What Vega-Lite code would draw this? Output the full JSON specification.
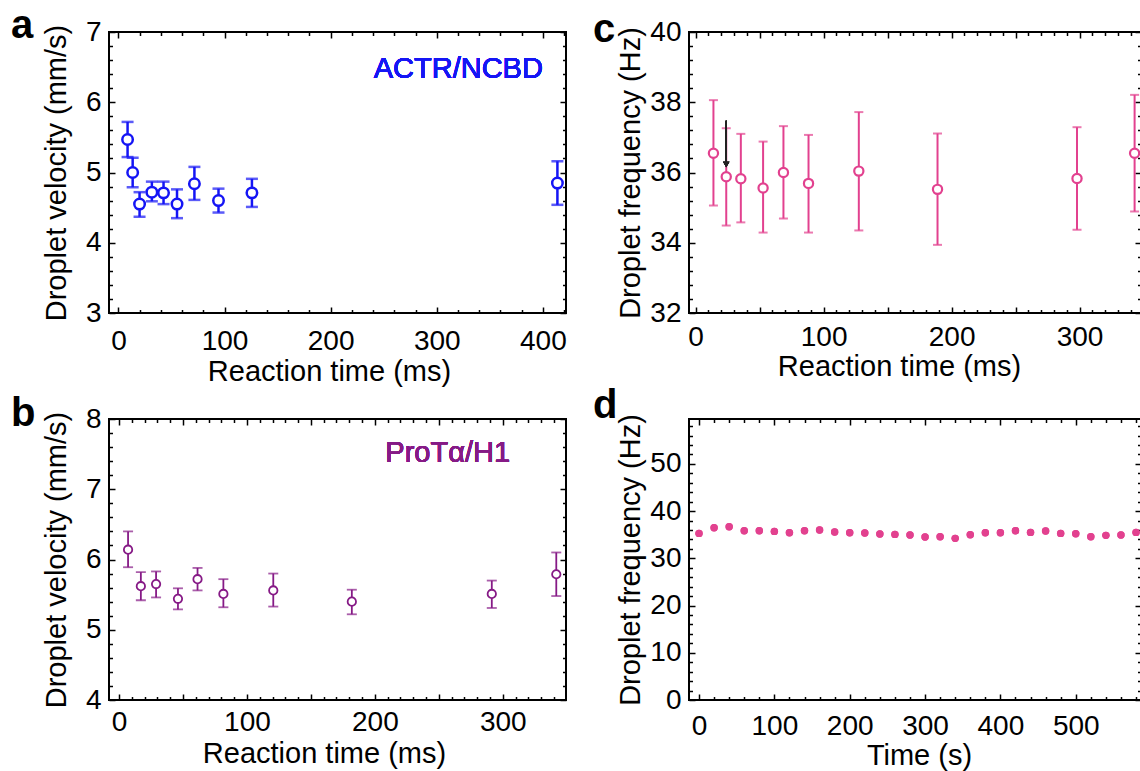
{
  "$schema": "https://vega.github.io/schema/vega-lite/v6.json",
  "background": "white",
  "padding": {"left": 10, "top": 5, "right": 0, "bottom": 0},
  "columns": 2,
  "spacing": {"row": 106, "column": 123},
  "bounds": "flush",
  "datasets": {
    "actr": [
      {"t": 8.6, "v": 5.47, "lo": 5.22, "hi": 5.72},
      {"t": 13.4, "v": 5.0, "lo": 4.79, "hi": 5.21},
      {"t": 19.9, "v": 4.55, "lo": 4.37, "hi": 4.72},
      {"t": 31.5, "v": 4.72, "lo": 4.59, "hi": 4.87},
      {"t": 42.5, "v": 4.71, "lo": 4.55, "hi": 4.87},
      {"t": 55.2, "v": 4.55, "lo": 4.35, "hi": 4.76},
      {"t": 71.6, "v": 4.84, "lo": 4.61, "hi": 5.08},
      {"t": 94.3, "v": 4.6, "lo": 4.43, "hi": 4.77},
      {"t": 125.8, "v": 4.71, "lo": 4.51, "hi": 4.91},
      {"t": 413.7, "v": 4.85, "lo": 4.54, "hi": 5.16}
    ],
    "prot": [
      {"t": 7.1, "v": 6.14, "lo": 5.89, "hi": 6.4},
      {"t": 17.1, "v": 5.62, "lo": 5.42, "hi": 5.82},
      {"t": 29.0, "v": 5.65, "lo": 5.46, "hi": 5.83},
      {"t": 46.1, "v": 5.44, "lo": 5.29, "hi": 5.59},
      {"t": 61.4, "v": 5.72, "lo": 5.56, "hi": 5.88},
      {"t": 81.6, "v": 5.51, "lo": 5.32, "hi": 5.72},
      {"t": 120.6, "v": 5.56, "lo": 5.33, "hi": 5.8},
      {"t": 182.0, "v": 5.4, "lo": 5.22, "hi": 5.57},
      {"t": 291.4, "v": 5.51, "lo": 5.31, "hi": 5.7},
      {"t": 341.8, "v": 5.79, "lo": 5.48, "hi": 6.1}
    ],
    "freq": [
      {"t": 13.9, "v": 36.55, "lo": 35.06, "hi": 38.06},
      {"t": 23.9, "v": 35.88, "lo": 34.49, "hi": 37.26},
      {"t": 35.3, "v": 35.82, "lo": 34.58, "hi": 37.1},
      {"t": 52.7, "v": 35.56, "lo": 34.29, "hi": 36.88},
      {"t": 68.6, "v": 36.0, "lo": 34.69, "hi": 37.32},
      {"t": 88.2, "v": 35.69, "lo": 34.29, "hi": 37.07},
      {"t": 127.5, "v": 36.04, "lo": 34.35, "hi": 37.72},
      {"t": 189.0, "v": 35.52, "lo": 33.94, "hi": 37.11},
      {"t": 298.0, "v": 35.83, "lo": 34.37, "hi": 37.29},
      {"t": 343.0, "v": 36.55, "lo": 34.89, "hi": 38.21}
    ],
    "series": [
      {"t": 0, "f": 35.28}, {"t": 20, "f": 36.48}, {"t": 40, "f": 36.69}, {"t": 60, "f": 35.85},
      {"t": 80, "f": 35.85}, {"t": 100, "f": 35.7}, {"t": 120, "f": 35.42}, {"t": 140, "f": 35.85},
      {"t": 160, "f": 35.99}, {"t": 180, "f": 35.56}, {"t": 200, "f": 35.42}, {"t": 220, "f": 35.35},
      {"t": 240, "f": 35.14}, {"t": 260, "f": 35.07}, {"t": 280, "f": 34.93}, {"t": 300, "f": 34.51},
      {"t": 320, "f": 34.58}, {"t": 340, "f": 34.23}, {"t": 360, "f": 35.0}, {"t": 380, "f": 35.42},
      {"t": 400, "f": 35.42}, {"t": 420, "f": 35.85}, {"t": 440, "f": 35.49}, {"t": 460, "f": 35.77},
      {"t": 480, "f": 35.28}, {"t": 500, "f": 35.21}, {"t": 520, "f": 34.58}, {"t": 540, "f": 34.86},
      {"t": 560, "f": 34.93}, {"t": 580, "f": 35.49}
    ]
  },
  "concat": [
    {
      "width": 457, "height": 281,
      "title": {"text": "a", "anchor": "start", "frame": "group", "fontSize": 40, "fontWeight": "bold", "font": "Liberation Sans", "color": "black", "offset": 0, "baseline": "alphabetic", "dx": -98, "dy": 60},
      "data": {"name": "actr"},
      "layer": [
        {
          "mark": {"type": "rule", "color": "#1515f5", "strokeWidth": 2.5},
          "encoding": {
            "x": {"field": "t", "type": "quantitative", "scale": {"domain": [-8.9, 421.8], "nice": false, "zero": false},
              "axis": {"orient": "bottom", "values": [0,20,40,60,80,100,120,140,160,180,200,220,240,260,280,300,320,340,360,380,400,420],
                "tickSize": {"condition": {"test": "datum.value % 100 === 0", "value": -6}, "value": -3.5}, "labelPadding": 20,
                "labelExpr": "datum.value % 100 === 0 ? toString(datum.value) : ''",
                "title": "Reaction time (ms)", "titleX": 220, "titleY": 67, "titleBaseline": "alphabetic"}},
            "y": {"field": "lo", "type": "quantitative", "scale": {"domain": [3, 7], "nice": false, "zero": false},
              "axis": {"orient": "left", "values": [3,3.2,3.4,3.6,3.8,4,4.2,4.4,4.6,4.8,5,5.2,5.4,5.6,5.8,6,6.2,6.4,6.6,6.8,7],
                "tickSize": {"condition": {"test": "abs(datum.value - round(datum.value)) < 0.001", "value": -6}, "value": -3.5}, "labelPadding": 14,
                "labelExpr": "abs(datum.value - round(datum.value)) < 0.001 ? toString(round(datum.value)) : ''",
                "title": "Droplet velocity (mm/s)", "titlePadding": 14}},
            "y2": {"field": "hi"}
          }
        },
        {
          "mark": {"type": "tick", "orient": "horizontal", "color": "#1515f5", "size": 12, "thickness": 2.5},
          "encoding": {
            "x": {"field": "t", "type": "quantitative",
              "axis": {"orient": "top", "values": [0,20,40,60,80,100,120,140,160,180,200,220,240,260,280,300,320,340,360,380,400,420],
                "tickSize": {"condition": {"test": "datum.value % 100 === 0", "value": -6}, "value": -3.5}, "labels": false, "title": null}},
            "y": {"field": "hi", "type": "quantitative",
              "axis": {"orient": "right", "values": [3,3.2,3.4,3.6,3.8,4,4.2,4.4,4.6,4.8,5,5.2,5.4,5.6,5.8,6,6.2,6.4,6.6,6.8,7],
                "tickSize": {"condition": {"test": "abs(datum.value - round(datum.value)) < 0.001", "value": -6}, "value": -3.5}, "labels": false, "title": null}}
          }
        },
        {
          "mark": {"type": "tick", "orient": "horizontal", "color": "#1515f5", "size": 12, "thickness": 2.5},
          "encoding": {
            "x": {"field": "t", "type": "quantitative", "axis": null},
            "y": {"field": "lo", "type": "quantitative", "axis": null}
          }
        },
        {
          "mark": {"type": "point", "shape": "circle", "filled": false, "color": "#1515f5", "fill": "white", "fillOpacity": 1, "size": 110, "strokeWidth": 2.5},
          "encoding": {
            "x": {"field": "t", "type": "quantitative", "axis": null},
            "y": {"field": "v", "type": "quantitative", "axis": null}
          }
        },
        {
          "mark": {"type": "text", "text": "ACTR/NCBD", "color": "#1515f5", "fontSize": 29, "fontWeight": "normal", "font": "Liberation Sans", "align": "right", "baseline": "alphabetic"},
          "encoding": {
            "x": {"datum": 400, "type": "quantitative", "axis": null},
            "y": {"datum": 6.34, "type": "quantitative", "axis": null}
          }
        }
      ],
      "resolve": {"axis": {"x": "independent", "y": "independent"}}
    },
    {
      "width": 452, "height": 281,
      "title": {"text": "c", "anchor": "start", "frame": "group", "fontSize": 40, "fontWeight": "bold", "font": "Liberation Sans", "color": "black", "offset": 0, "baseline": "alphabetic", "dx": -96, "dy": 64},
      "data": {"name": "freq"},
      "layer": [
        {
          "mark": {"type": "rule", "color": "#e2418f", "strokeWidth": 2},
          "encoding": {
            "x": {"field": "t", "type": "quantitative", "scale": {"domain": [-5.2, 348], "nice": false, "zero": false},
              "axis": {"orient": "bottom", "values": [0,10,20,30,40,50,60,70,80,90,100,110,120,130,140,150,160,170,180,190,200,210,220,230,240,250,260,270,280,290,300,310,320,330,340],
                "tickSize": {"condition": {"test": "datum.value % 50 === 0", "value": -6}, "value": -3.5}, "labelPadding": 16,
                "labelExpr": "datum.value % 100 === 0 ? toString(datum.value) : ''",
                "title": "Reaction time (ms)", "titleX": 210, "titleY": 62, "titleBaseline": "alphabetic"}},
            "y": {"field": "lo", "type": "quantitative", "scale": {"domain": [32, 40], "nice": false, "zero": false},
              "axis": {"orient": "left", "values": [32,32.4,32.8,33.2,33.6,34,34.4,34.8,35.2,35.6,36,36.4,36.8,37.2,37.6,38,38.4,38.8,39.2,39.6,40],
                "tickSize": {"condition": {"test": "abs(datum.value/2 - round(datum.value/2)) < 0.001", "value": -6}, "value": -3.5}, "labelPadding": 14,
                "labelExpr": "abs(datum.value/2 - round(datum.value/2)) < 0.001 ? toString(round(datum.value)) : ''",
                "title": "Droplet frequency (Hz)", "titlePadding": 4}},
            "y2": {"field": "hi"}
          }
        },
        {
          "mark": {"type": "tick", "orient": "horizontal", "color": "#e2418f", "size": 9, "thickness": 2},
          "encoding": {
            "x": {"field": "t", "type": "quantitative",
              "axis": {"orient": "top", "values": [0,10,20,30,40,50,60,70,80,90,100,110,120,130,140,150,160,170,180,190,200,210,220,230,240,250,260,270,280,290,300,310,320,330,340],
                "tickSize": {"condition": {"test": "datum.value % 50 === 0", "value": -6}, "value": -3.5}, "labels": false, "title": null}},
            "y": {"field": "hi", "type": "quantitative",
              "axis": {"orient": "right", "values": [32,32.4,32.8,33.2,33.6,34,34.4,34.8,35.2,35.6,36,36.4,36.8,37.2,37.6,38,38.4,38.8,39.2,39.6,40],
                "tickSize": {"condition": {"test": "abs(datum.value/2 - round(datum.value/2)) < 0.001", "value": -6}, "value": -3.5}, "labels": false, "title": null}}
          }
        },
        {
          "mark": {"type": "tick", "orient": "horizontal", "color": "#e2418f", "size": 9, "thickness": 2},
          "encoding": {
            "x": {"field": "t", "type": "quantitative", "axis": null},
            "y": {"field": "lo", "type": "quantitative", "axis": null}
          }
        },
        {
          "mark": {"type": "point", "shape": "circle", "filled": false, "color": "#e2418f", "fill": "white", "fillOpacity": 1, "size": 85, "strokeWidth": 2.2},
          "encoding": {
            "x": {"field": "t", "type": "quantitative", "axis": null},
            "y": {"field": "v", "type": "quantitative", "axis": null}
          }
        },
        {
          "mark": {"type": "rule", "color": "#222222", "strokeWidth": 1.2},
          "encoding": {
            "x": {"datum": 23.9, "type": "quantitative", "axis": null},
            "y": {"datum": 37.47, "type": "quantitative", "axis": null},
            "y2": {"datum": 36.3}
          }
        },
        {
          "mark": {"type": "point", "shape": "triangle-down", "filled": true, "color": "#222222", "size": 40, "strokeWidth": 0},
          "encoding": {
            "x": {"datum": 23.9, "type": "quantitative", "axis": null},
            "y": {"datum": 36.23, "type": "quantitative", "axis": null}
          }
        }
      ],
      "resolve": {"axis": {"x": "independent", "y": "independent"}}
    },
    {
      "width": 457, "height": 281,
      "title": {"text": "b", "anchor": "start", "frame": "group", "fontSize": 40, "fontWeight": "bold", "font": "Liberation Sans", "color": "black", "offset": 0, "baseline": "alphabetic", "dx": -98, "dy": 61},
      "data": {"name": "prot"},
      "layer": [
        {
          "mark": {"type": "rule", "color": "#861a86", "strokeWidth": 1.8},
          "encoding": {
            "x": {"field": "t", "type": "quantitative", "scale": {"domain": [-7.8, 349.4], "nice": false, "zero": false},
              "axis": {"orient": "bottom", "values": [0,10,20,30,40,50,60,70,80,90,100,110,120,130,140,150,160,170,180,190,200,210,220,230,240,250,260,270,280,290,300,310,320,330,340],
                "tickSize": {"condition": {"test": "datum.value % 50 === 0", "value": -6}, "value": -3.5}, "labelPadding": 14,
                "labelExpr": "datum.value % 100 === 0 ? toString(datum.value) : ''",
                "title": "Reaction time (ms)", "titleX": 215, "titleY": 62, "titleBaseline": "alphabetic"}},
            "y": {"field": "lo", "type": "quantitative", "scale": {"domain": [4, 8], "nice": false, "zero": false},
              "axis": {"orient": "left", "values": [4,4.2,4.4,4.6,4.8,5,5.2,5.4,5.6,5.8,6,6.2,6.4,6.6,6.8,7,7.2,7.4,7.6,7.8,8],
                "tickSize": {"condition": {"test": "abs(datum.value - round(datum.value)) < 0.001", "value": -6}, "value": -3.5}, "labelPadding": 14,
                "labelExpr": "abs(datum.value - round(datum.value)) < 0.001 ? toString(round(datum.value)) : ''",
                "title": "Droplet velocity (mm/s)", "titlePadding": 14}},
            "y2": {"field": "hi"}
          }
        },
        {
          "mark": {"type": "tick", "orient": "horizontal", "color": "#861a86", "size": 10, "thickness": 1.8},
          "encoding": {
            "x": {"field": "t", "type": "quantitative",
              "axis": {"orient": "top", "values": [0,10,20,30,40,50,60,70,80,90,100,110,120,130,140,150,160,170,180,190,200,210,220,230,240,250,260,270,280,290,300,310,320,330,340],
                "tickSize": {"condition": {"test": "datum.value % 50 === 0", "value": -6}, "value": -3.5}, "labels": false, "title": null}},
            "y": {"field": "hi", "type": "quantitative",
              "axis": {"orient": "right", "values": [4,4.2,4.4,4.6,4.8,5,5.2,5.4,5.6,5.8,6,6.2,6.4,6.6,6.8,7,7.2,7.4,7.6,7.8,8],
                "tickSize": {"condition": {"test": "abs(datum.value - round(datum.value)) < 0.001", "value": -6}, "value": -3.5}, "labels": false, "title": null}}
          }
        },
        {
          "mark": {"type": "tick", "orient": "horizontal", "color": "#861a86", "size": 10, "thickness": 1.8},
          "encoding": {
            "x": {"field": "t", "type": "quantitative", "axis": null},
            "y": {"field": "lo", "type": "quantitative", "axis": null}
          }
        },
        {
          "mark": {"type": "point", "shape": "circle", "filled": false, "color": "#861a86", "fill": "white", "fillOpacity": 1, "size": 70, "strokeWidth": 1.8},
          "encoding": {
            "x": {"field": "t", "type": "quantitative", "axis": null},
            "y": {"field": "v", "type": "quantitative", "axis": null}
          }
        },
        {
          "mark": {"type": "text", "text": "ProTα/H1", "color": "#861a86", "fontSize": 29, "fontWeight": "normal", "font": "Liberation Sans", "align": "right", "baseline": "alphabetic"},
          "encoding": {
            "x": {"datum": 305.7, "type": "quantitative", "axis": null},
            "y": {"datum": 7.385, "type": "quantitative", "axis": null}
          }
        }
      ],
      "resolve": {"axis": {"x": "independent", "y": "independent"}}
    },
    {
      "width": 452, "height": 281,
      "title": {"text": "d", "anchor": "start", "frame": "group", "fontSize": 40, "fontWeight": "bold", "font": "Liberation Sans", "color": "black", "offset": 0, "baseline": "alphabetic", "dx": -96, "dy": 46},
      "data": {"name": "series"},
      "layer": [
        {
          "mark": {"type": "point", "shape": "circle", "filled": true, "color": "#e2418f", "opacity": 1, "size": 55, "strokeWidth": 0},
          "encoding": {
            "x": {"field": "t", "type": "quantitative", "scale": {"domain": [-13.3, 586.6], "nice": false, "zero": false},
              "axis": {"orient": "bottom", "values": [0,20,40,60,80,100,120,140,160,180,200,220,240,260,280,300,320,340,360,380,400,420,440,460,480,500,520,540,560,580],
                "tickSize": {"condition": {"test": "datum.value % 100 === 0", "value": -6}, "value": -3.5}, "labelPadding": 18,
                "labelExpr": "datum.value % 100 === 0 ? toString(datum.value) : ''",
                "title": "Time (s)", "titleX": 230, "titleY": 64, "titleBaseline": "alphabetic"}},
            "y": {"field": "f", "type": "quantitative", "scale": {"domain": [0, 59.5], "nice": false, "zero": false},
              "axis": {"orient": "left", "values": [0,2,4,6,8,10,12,14,16,18,20,22,24,26,28,30,32,34,36,38,40,42,44,46,48,50,52,54,56,58],
                "tickSize": {"condition": {"test": "datum.value % 10 === 0", "value": -6}, "value": -3.5}, "labelPadding": 14,
                "labelExpr": "datum.value % 10 === 0 ? toString(datum.value) : ''",
                "title": "Droplet frequency (Hz)", "titlePadding": 4}}
          }
        },
        {
          "mark": {"type": "point", "shape": "circle", "filled": true, "color": "#e2418f", "opacity": 1, "size": 55, "strokeWidth": 0},
          "encoding": {
            "x": {"field": "t", "type": "quantitative",
              "axis": {"orient": "top", "values": [0,20,40,60,80,100,120,140,160,180,200,220,240,260,280,300,320,340,360,380,400,420,440,460,480,500,520,540,560,580],
                "tickSize": {"condition": {"test": "datum.value % 100 === 0", "value": -6}, "value": -3.5}, "labels": false, "title": null}},
            "y": {"field": "f", "type": "quantitative",
              "axis": {"orient": "right", "values": [0,2,4,6,8,10,12,14,16,18,20,22,24,26,28,30,32,34,36,38,40,42,44,46,48,50,52,54,56,58],
                "tickSize": {"condition": {"test": "datum.value % 10 === 0", "value": -6}, "value": -3.5}, "labels": false, "title": null}}
          }
        }
      ],
      "resolve": {"axis": {"x": "independent", "y": "independent"}}
    }
  ],
  "config": {
    "font": "Liberation Sans",
    "view": {"stroke": "black", "strokeWidth": 2},
    "axis": {
      "domain": false, "grid": false,
      "tickColor": "black", "tickWidth": 1.5,
      "labelFont": "Liberation Sans", "labelFontSize": 28, "labelColor": "black",
      "labelOverlap": false, "labelFlush": false,
      "titleFont": "Liberation Sans", "titleFontSize": 29, "titleFontWeight": "normal", "titleColor": "black"
    }
  }
}
